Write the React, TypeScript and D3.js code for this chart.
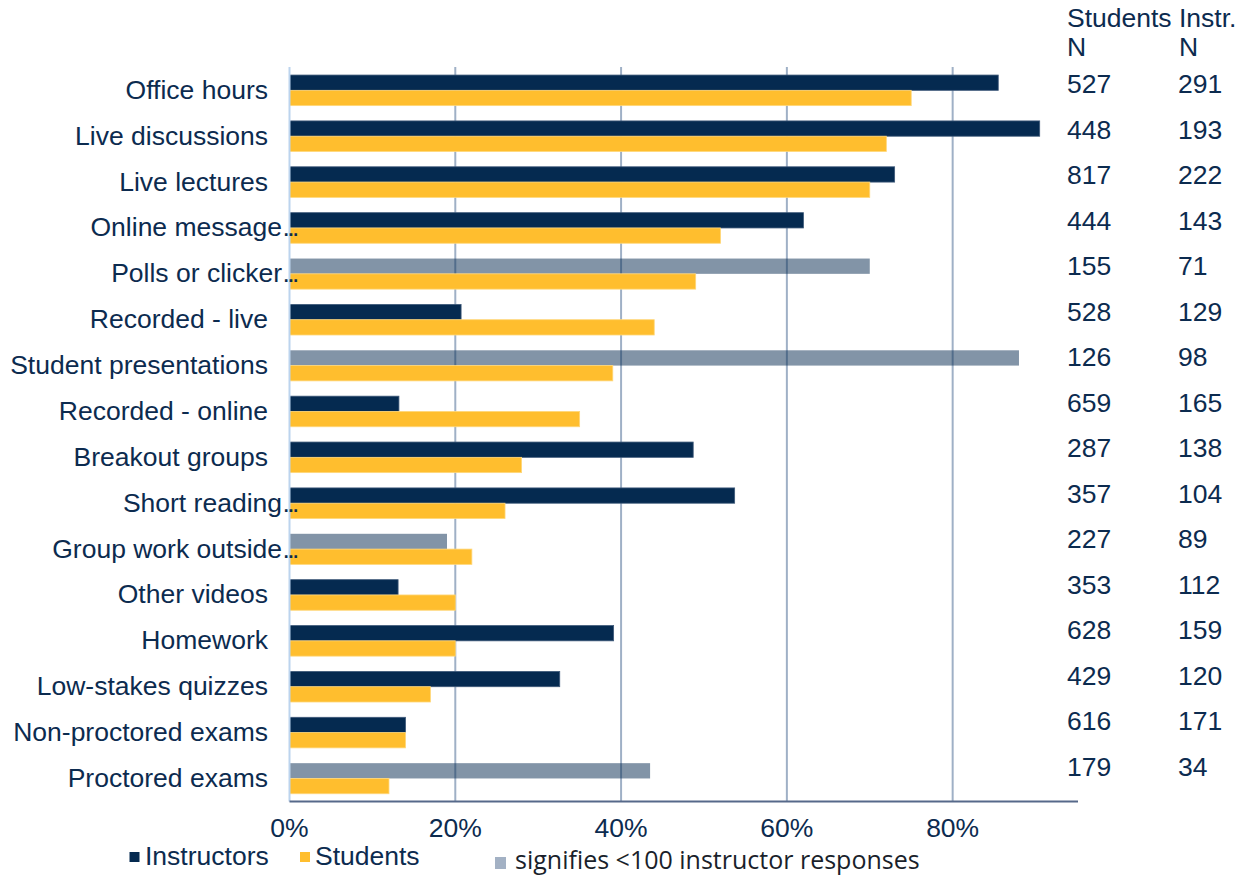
import React from "react";
import * as d3 from "d3";

const categories = [
  "Office hours",
  "Live discussions",
  "Live lectures",
  "Online message…",
  "Polls or clicker…",
  "Recorded - live",
  "Student presentations",
  "Recorded - online",
  "Breakout groups",
  "Short reading…",
  "Group work outside…",
  "Other videos",
  "Homework",
  "Low-stakes quizzes",
  "Non-proctored exams",
  "Proctored exams",
];
const instructors = [0.855, 0.905, 0.73, 0.62, 0.70, 0.207, 0.88, 0.132, 0.487, 0.537, 0.19, 0.131, 0.391, 0.326, 0.14, 0.435];
const students = [0.75, 0.72, 0.70, 0.52, 0.49, 0.44, 0.39, 0.35, 0.28, 0.26, 0.22, 0.20, 0.20, 0.17, 0.14, 0.12];
const studentsN = [527, 448, 817, 444, 155, 528, 126, 659, 287, 357, 227, 353, 628, 429, 616, 179];
const instructorsN = [291, 193, 222, 143, 71, 129, 98, 165, 138, 104, 89, 112, 159, 120, 171, 34];
const xTicks = [0, 0.2, 0.4, 0.6, 0.8];
const seriesNames = ["Instructors", "Students"];
const noteText = "signifies <100 instructor responses";
const headerStudents = ["Students", "N"];
const headerInstr = ["Instr.", "N"];

const NAVY = "#052a50";
const YELLOW = "#ffbe2e";
const TEXT = "#0c2b4f";
const FONT = "'Liberation Sans', Arial, sans-serif";
const FS = 26.5;

export default function App() {
  const x = d3.scaleLinear().domain([0, 0.95]).range([289.5, 1077]);
  const y = d3.scaleBand<string>().domain(categories).range([67.4, 801.4]).padding(0);
  const step = y.step();
  const barH = step / 3;
  const nY = d3.scalePoint<string>().domain(categories).range([93, 775.5]);
  const top = 67;
  const bottom = 801.4;

  return (
    <svg
      width={1247}
      height={875}
      style={{ position: "absolute", left: 0, top: 0, background: "#fff" }}
      fontFamily={FONT}
    >
      <rect x={0} y={0} width={1247} height={875} fill="#fff" />
      {/* gridlines */}
      {xTicks.slice(1).map((t) => (
        <line key={t} x1={x(t)} x2={x(t)} y1={top} y2={bottom} stroke="#9fb0c6" strokeWidth={2} />
      ))}
      {/* bars */}
      {categories.map((c, i) => {
        const y0 = (y(c) as number) + step / 6;
        const lowN = instructorsN[i] < 100;
        return (
          <g key={c}>
            <rect
              x={x(0)}
              y={y0}
              width={x(instructors[i]) - x(0)}
              height={barH}
              fill={NAVY}
              fillOpacity={lowN ? 0.5 : 1}
              stroke={lowN ? "none" : "#3f5a7a"}
              strokeWidth={0.8}
            />
            <rect
              x={x(0)}
              y={y0 + barH}
              width={x(students[i]) - x(0)}
              height={barH}
              fill={YELLOW}
              stroke="#ffd77a"
              strokeWidth={0.8}
            />
          </g>
        );
      })}
      {/* axes lines */}
      <line x1={x(0)} x2={x(0)} y1={top} y2={bottom} stroke="#bcd4ee" strokeWidth={2} />
      <line x1={x(0)} x2={1078} y1={bottom} y2={bottom} stroke="#56698a" strokeWidth={2} />
      {/* category labels */}
      {categories.map((c) => {
        const cy = (y(c) as number) + step / 2 + 8.5;
        const truncated = c.endsWith("…");
        if (!truncated) {
          return (
            <text key={c} x={268} y={cy} textAnchor="end" fontSize={FS} fill={TEXT}>
              {c}
            </text>
          );
        }
        const main = c.slice(0, -1);
        return (
          <g key={c}>
            <text x={282} y={cy} textAnchor="end" fontSize={FS} fill={TEXT}>
              {main}
            </text>
            <text x={282.5} y={cy} fontSize={FS} fill={TEXT} letterSpacing={-2.6}>
              ...
            </text>
          </g>
        );
      })}
      {/* tick labels */}
      {xTicks.map((t) => (
        <text key={t} x={x(t)} y={837} textAnchor="middle" fontSize={FS} fill={TEXT}>
          {d3.format(".0%")(t)}
        </text>
      ))}
      {/* N columns */}
      {headerStudents.map((h, i) => (
        <text key={"hs" + i} x={1067} y={27 + i * 28.5} fontSize={FS} fill={TEXT}>
          {h}
        </text>
      ))}
      {headerInstr.map((h, i) => (
        <text key={"hi" + i} x={1179} y={27 + i * 28.5} fontSize={FS} fill={TEXT}>
          {h}
        </text>
      ))}
      {categories.map((c, i) => (
        <g key={"n" + c}>
          <text x={1067} y={nY(c)} fontSize={FS} fill={TEXT}>
            {studentsN[i]}
          </text>
          <text x={1178} y={nY(c)} fontSize={FS} fill={TEXT}>
            {instructorsN[i]}
          </text>
        </g>
      ))}
      {/* legend */}
      <rect x={129.5} y={852} width={10} height={10} fill={NAVY} />
      <text x={145} y={865} fontSize={FS} fill={TEXT}>
        {seriesNames[0]}
      </text>
      <rect x={300} y={852} width={10} height={10} fill={YELLOW} />
      <text x={315} y={865} fontSize={FS} fill={TEXT}>
        {seriesNames[1]}
      </text>
      <rect x={495} y={857} width={11} height={12} fill="#a3b1c4" />
      <text x={515} y={869} fontSize={25} fill="#1a1f2b" fontFamily="'Open Sans', 'Noto Sans', sans-serif">
        {noteText}
      </text>
    </svg>
  );
}
